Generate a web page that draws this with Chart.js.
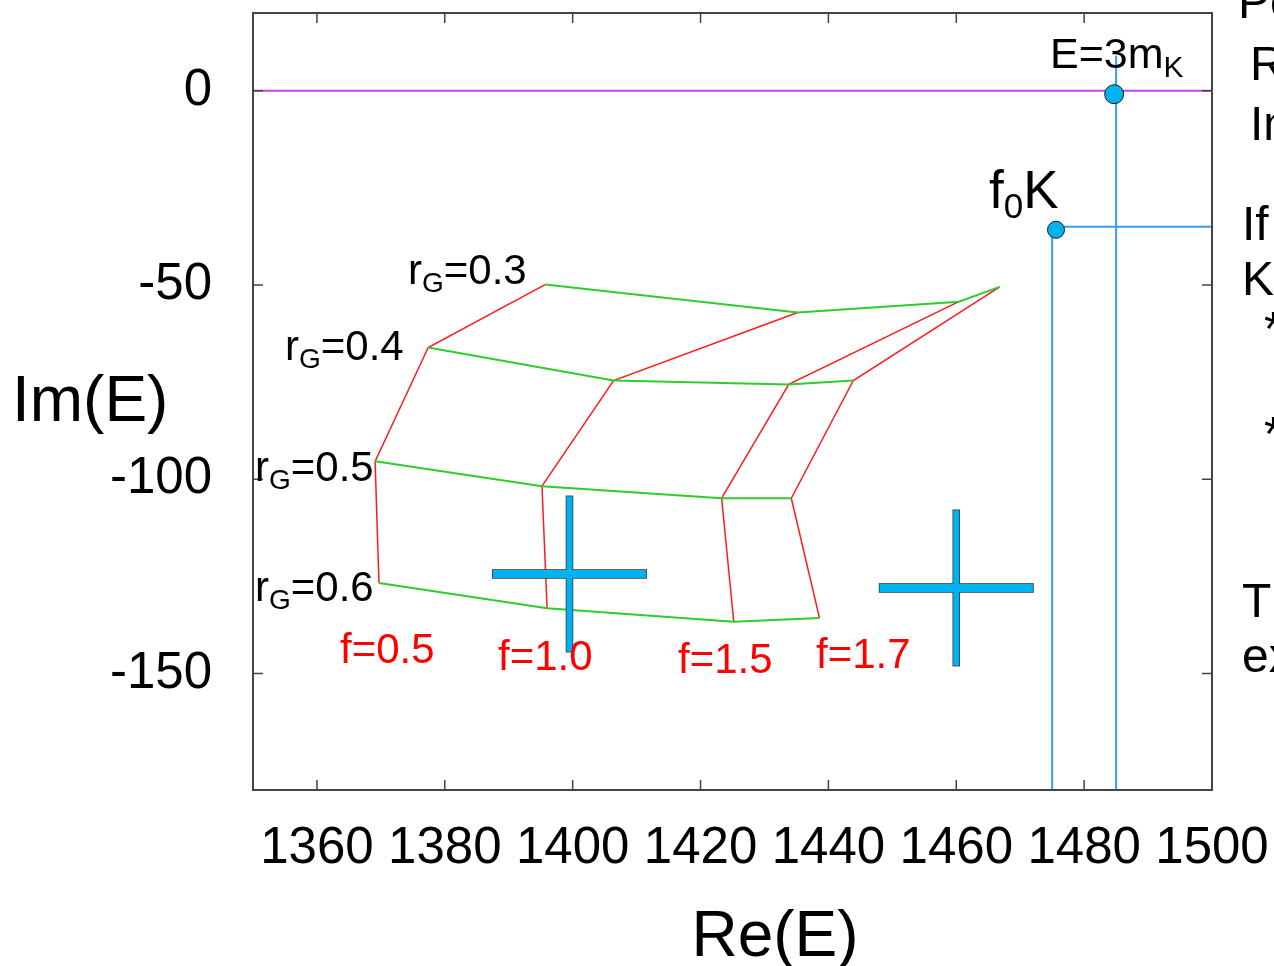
<!DOCTYPE html>
<html>
<head>
<meta charset="utf-8">
<script src="https://cdn.jsdelivr.net/npm/chart.js@4.4.1/dist/chart.umd.min.js"></script>
<style>
  html, body { margin: 0; padding: 0; background: #fff; }
  #wrap { width: 1274px; height: 966px; }
</style>
</head>
<body>
<div id="wrap"><canvas id="chart" width="1274" height="966"></canvas></div>
<script>
const FONT = "'Liberation Sans', Arial, Helvetica, sans-serif";

// axis ranges and ticks
const reMin = 1350, reMax = 1500;
const imMin = -180, imMax = 20;
const xTicks = [1360, 1380, 1400, 1420, 1440, 1460, 1480, 1500];
const yTicks = [0, -50, -100, -150];

// pole positions: one row per r_G, columns are f = 0.5, 1.0, 1.5, 1.7
const rGValues = ["0.3", "0.4", "0.5", "0.6"];
const fValues = ["0.5", "1.0", "1.5", "1.7"];
const reRG03 = [1395.7, 1435.2, 1460.4, 1466.8];
const imRG03 = [-49.9, -57.1, -54.3, -50.5];
const reRG04 = [1377.4, 1406.4, 1433.8, 1443.9];
const imRG04 = [-66.1, -74.6, -75.6, -74.6];
const reRG05 = [1369.1, 1395.2, 1423.3, 1434.2];
const imRG05 = [-95.4, -101.8, -104.9, -104.9];
const reRG06 = [1369.7, 1396.0, 1425.2, 1438.6];
const imRG06 = [-126.7, -133.2, -136.7, -135.7];

// experimental points with error bars
const crossRe = [1399.5, 1460];
const crossIm = [-124.4, -128];
const crossErrRe = [12, 12];
const crossErrIm = [20, 20];

// thresholds: E = 3 m_K and f0 K
const threshRe = [1484.7, 1475.6];
const threshIm = [-0.9, -35.8];
const threeMKLine = 1485;
const threeMKTop = 9;
const f0KLineRe = 1475;
const f0KLineIm = -35;

const GREEN = "#2ecc2e";
const RED = "#ff1a1a";
const BLUE = "#3a9cf0";
const CYAN = "#00b2f0";
const MAGENTA = "#cc3fee";

const rows = [
    [reRG03, imRG03],
    [reRG04, imRG04],
    [reRG05, imRG05],
    [reRG06, imRG06],
];

function line(data, color, width) {
    return {
        data,
        showLine: true,
        borderColor: color,
        borderWidth: width,
        pointRadius: 0,
        tension: 0,
        fill: false,
    };
}

const datasets = [];
datasets.push({
    data: threshRe.map((x, i) => ({ x, y: threshIm[i] })),
    showLine: false,
    pointRadius: [9.5, 8.5],
    pointBackgroundColor: CYAN,
    pointBorderColor: "#1a1a1a",
    pointBorderWidth: 1,
});
for (const [re, im] of rows) {
    datasets.push(line(re.map((x, i) => ({ x, y: im[i] })), GREEN, 2));
}
fValues.forEach((_, j) => {
    datasets.push(line(rows.map(([re, im]) => ({ x: re[j], y: im[j] })), RED, 1.5));
});
datasets.push(line([{ x: threeMKLine, y: threeMKTop }, { x: threeMKLine, y: imMin }], BLUE, 2));
datasets.push(line([
    { x: reMax, y: f0KLineIm },
    { x: f0KLineRe, y: f0KLineIm },
    { x: f0KLineRe, y: imMin },
], BLUE, 2));
datasets.push(line([{ x: reMin, y: 0 }, { x: reMax, y: 0 }], MAGENTA, 2));

// blue crosses drawn from the error-bar arrays
const crossPlugin = {
    id: "crosses",
    afterDatasetsDraw(chart) {
        const { ctx, scales: { x, y } } = chart;
        const rects = [];
        crossRe.forEach((re, i) => {
            const cx = x.getPixelForValue(re);
            const cy = y.getPixelForValue(crossIm[i]);
            const x0 = x.getPixelForValue(re - crossErrRe[i]);
            const x1 = x.getPixelForValue(re + crossErrRe[i]);
            const y0 = y.getPixelForValue(crossIm[i] + crossErrIm[i]);
            const y1 = y.getPixelForValue(crossIm[i] - crossErrIm[i]);
            rects.push([x0, cy - 4, x1 - x0, 8]);
            rects.push([cx - 3, y0, 6, y1 - y0]);
        });
        ctx.save();
        ctx.strokeStyle = "#333";
        ctx.lineWidth = 1.5;
        for (const r of rects) ctx.strokeRect(...r);
        ctx.fillStyle = CYAN;
        for (const r of rects) ctx.fillRect(...r);
        ctx.restore();
    },
};

// frame with inward ticks on all four sides
const framePlugin = {
    id: "frame",
    afterDraw(chart) {
        const { ctx, chartArea: a, scales: { x, y } } = chart;
        const len = 10;
        ctx.save();
        ctx.strokeStyle = "#444";
        ctx.lineWidth = 2;
        ctx.strokeRect(a.left, a.top, a.right - a.left, a.bottom - a.top);
        ctx.lineWidth = 1.5;
        ctx.beginPath();
        for (const v of xTicks) {
            const px = x.getPixelForValue(v);
            ctx.moveTo(px, a.bottom); ctx.lineTo(px, a.bottom - len);
            ctx.moveTo(px, a.top); ctx.lineTo(px, a.top + len);
        }
        for (const v of yTicks) {
            const py = y.getPixelForValue(v);
            ctx.moveTo(a.left, py); ctx.lineTo(a.left + len, py);
            ctx.moveTo(a.right, py); ctx.lineTo(a.right - len, py);
        }
        ctx.stroke();
        ctx.restore();
    },
};

function drawParts(ctx, parts, x, y, color) {
    ctx.fillStyle = color;
    ctx.textBaseline = "alphabetic";
    ctx.textAlign = "left";
    let cx = x;
    for (const p of parts) {
        ctx.font = p.size + "px " + FONT;
        ctx.fillText(p.t, cx, y + (p.dy || 0));
        cx += ctx.measureText(p.t).width;
    }
}

const labelPlugin = {
    id: "labels",
    afterDraw(chart) {
        const ctx = chart.ctx;
        ctx.save();
        const rgPos = [[408, 284], [285, 360], [255, 481], [255, 601]];
        rGValues.forEach((v, i) => {
            drawParts(ctx, [
                { t: "r", size: 42 },
                { t: "G", size: 28, dy: 8 },
                { t: "=" + v, size: 42 },
            ], rgPos[i][0], rgPos[i][1], "#000");
        });
        const fPos = [[340, 663], [498, 670], [678, 673], [816, 668]];
        fValues.forEach((v, i) => {
            drawParts(ctx, [{ t: "f=" + v, size: 42 }], fPos[i][0], fPos[i][1], "#ff0000");
        });
        drawParts(ctx, [
            { t: "E=3m", size: 43 },
            { t: "K", size: 30, dy: 9 },
        ], 1050, 68, "#000");
        drawParts(ctx, [
            { t: "f", size: 53 },
            { t: "0", size: 35, dy: 10 },
            { t: "K", size: 53 },
        ], 989, 208, "#000");

        // axis titles
        drawParts(ctx, [{ t: "Im(E)", size: 64 }], 12, 421, "#000");
        ctx.font = "64px " + FONT;
        ctx.textAlign = "center";
        ctx.fillText("Re(E)", 775, 956);

        // slide text cut off at the right edge
        const side = [
            ["Pole", 1238, 18], ["Re", 1250, 80], ["Im", 1250, 140],
            ["If", 1242, 240], ["K", 1242, 295], ["*", 1264, 345],
            ["*", 1264, 450], ["Th", 1242, 617], ["ex", 1242, 672],
        ];
        for (const [t, sx, sy] of side) {
            drawParts(ctx, [{ t, size: 48 }], sx, sy, "#000");
        }
        ctx.restore();
    },
};

function noPadding(s) {
    s.paddingLeft = 0;
    s.paddingRight = 0;
    s.paddingTop = 0;
    s.paddingBottom = 0;
}

new Chart(document.getElementById("chart"), {
    type: "scatter",
    data: { datasets },
    plugins: [crossPlugin, framePlugin, labelPlugin],
    options: {
        responsive: false,
        animation: false,
        devicePixelRatio: 1,
        layout: { padding: { top: 13, right: 62, left: 0, bottom: 0 } },
        plugins: {
            legend: { display: false },
            tooltip: { enabled: false },
        },
        scales: {
            x: {
                type: "linear",
                min: reMin,
                max: reMax,
                afterBuildTicks: (s) => { s.ticks = xTicks.map((value) => ({ value })); },
                afterFit: (s) => { s.height = 176; noPadding(s); },
                grid: { display: false, drawTicks: false },
                border: { display: false },
                ticks: {
                    autoSkip: false,
                    maxRotation: 0,
                    padding: 28,
                    color: "#000",
                    font: { family: FONT, size: 51 },
                    callback: (v) => String(v),
                },
            },
            y: {
                type: "linear",
                min: imMin,
                max: imMax,
                afterBuildTicks: (s) => { s.ticks = yTicks.map((value) => ({ value })); },
                afterFit: (s) => { s.width = 253; noPadding(s); },
                grid: { display: false, drawTicks: false },
                border: { display: false },
                ticks: {
                    padding: 41,
                    color: "#000",
                    font: { family: FONT, size: 51 },
                    callback: (v) => String(v),
                },
            },
        },
    },
});
</script>
</body>
</html>
